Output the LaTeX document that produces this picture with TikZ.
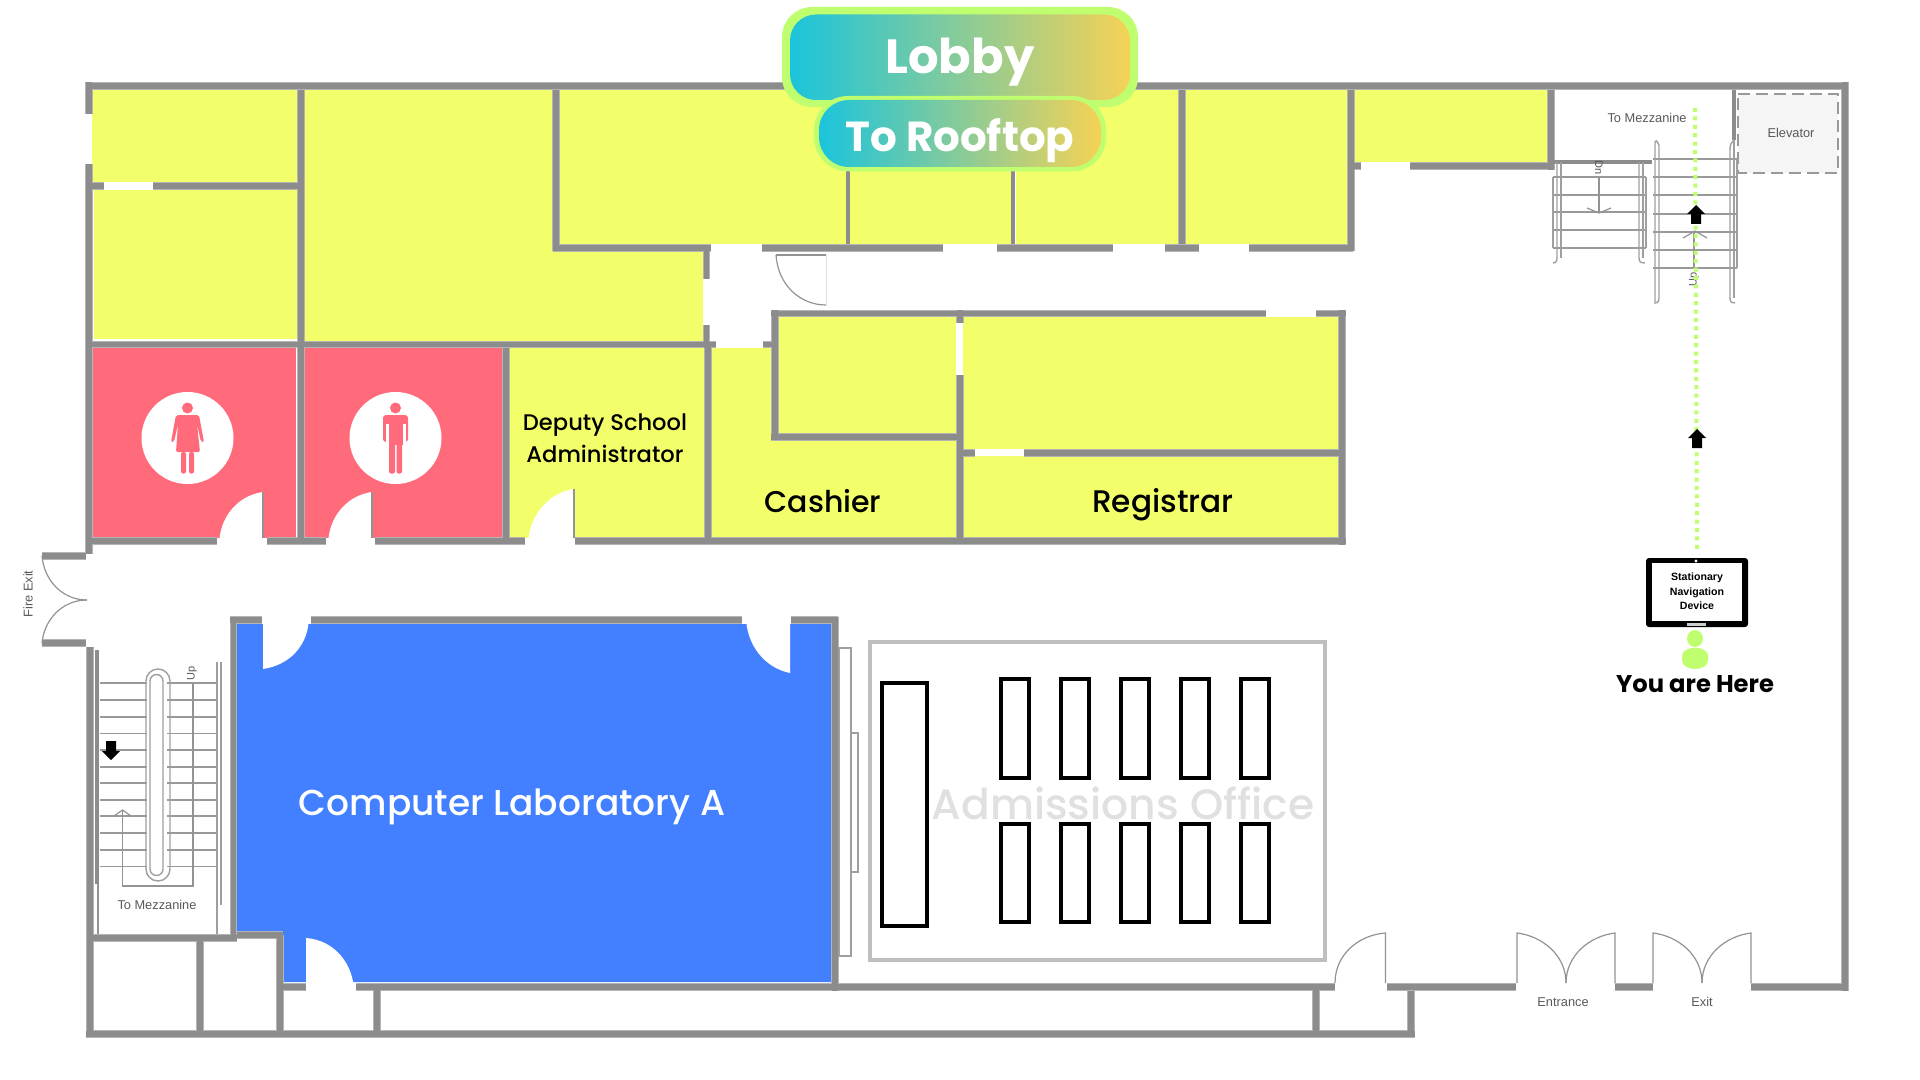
\documentclass[tikz,border=0pt]{standalone}
\usepackage{fontspec}
\setmainfont{Poppins}
\newfontfamily\medfont{Poppins Medium}
\newfontfamily\planfont{Liberation Sans}
\definecolor{roomy}{HTML}{F2FF6B}
\definecolor{roomp}{HTML}{FF6B7B}
\definecolor{roomb}{HTML}{4280FF}
\definecolor{wallc}{HTML}{8C8C8C}
\definecolor{wallo}{HTML}{B4B4B4}
\definecolor{lime}{HTML}{BFFF6F}
\definecolor{gradl}{HTML}{1BC4DC}
\definecolor{gradr}{HTML}{F5D255}
\tikzset{
  room/.style={fill=roomy,draw=none},
  rest/.style={fill=roomp,draw=none},
  wall/.style={draw=wallc,line width=2.8pt},
  wallouter/.style={draw=wallo,line width=3.9pt},
  wallthin/.style={draw=wallc,line width=1.6pt},
  fine/.style={draw=gray!85,line width=0.6pt},
  tread/.style={draw=gray!80,line width=0.8pt},
  rail/.style={draw=gray!75,line width=0.7pt},
  doorw/.style={fill=white,draw=none},
  table/.style={draw=black,line width=2.2pt,fill=white},
  planlabel/.style={font=\planfont\fontsize{6.4}{7}\selectfont,text=black!65,inner sep=0pt},
  roomlabel/.style={inner sep=0pt,align=center},
  tip/.style={fill=black,draw=none},
}
\def\wallpath{
  (86,86) -- (1848,86)
  (1845,82) -- (1845,991)
  (1751,987) -- (1848,987)
  (1615,987) -- (1653,987)
  (1387,987) -- (1516,987)
  (356,987) -- (1335,987)
  (283,987) -- (306,987)
  (86,1034) -- (1415,1034)
  (1411,991) -- (1411,1037)
  (89,82) -- (89,114)
  (89,164) -- (89,554)
  (90,647) -- (90,1037)
  (92,938) -- (237,938)
  (237,935) -- (283,935)
  (280,935) -- (280,1034)
  (200,940) -- (200,1034)
  (377,987) -- (377,1034)
  (1316,987) -- (1316,1034)
  (92,344.5) -- (716,344.5)
  (763,344.5) -- (775,344.5)
  (301,90) -- (301,541)
  (556,90) -- (556,251)
  (553,248) -- (711,248)
  (706.5,251) -- (706.5,279)
  (706.5,325) -- (706.5,348)
  (708,344) -- (708,541)
  (506,348) -- (506,541)
  (153,186) -- (298,186)
  (92,186) -- (104,186)
  (86,541) -- (217,541)
  (267,541) -- (326,541)
  (375,541) -- (525,541)
  (575,541) -- (1346,541)
  (1342,310) -- (1342,545)
  (771,313.5) -- (1266,313.5)
  (1316,313.5) -- (1346,313.5)
  (775,310) -- (775,440)
  (771,437) -- (958,437)
  (960,310) -- (960,323)
  (960,375) -- (960,541)
  (960,453) -- (975,453)
  (1024,453) -- (1342,453)
  (762,248) -- (943,248)
  (997,248) -- (1113,248)
  (1165,248) -- (1199,248)
  (1249,248) -- (1353,248)
  (1182,90) -- (1182,244)
  (1351,90) -- (1351,251)
  (1352,166) -- (1361,166)
  (1410,166) -- (1554,166)
  (1551,90) -- (1551,170)
  (230,620) -- (262,620)
  (311,620) -- (742,620)
  (791,620) -- (838,620)
  (835,617) -- (835,991)
  (233.5,617) -- (233.5,938)
  (42,556) -- (86,556)
  (42,643) -- (86,643)
}
\begin{document}
\begin{tikzpicture}[x=0.5pt,y=-0.5pt]
\useasboundingbox (0,0) rectangle (1920,1080);
\fill[white] (0,0) rectangle (1920,1080);
% rooms
\fill[room] (92,90) rectangle (297,182);
\fill[room] (94,190) rectangle (298,339);
\fill[room] (304,90) -- (553,90) -- (553,251) -- (703,251) -- (703,341) -- (304,341) -- cycle;
\fill[room] (559,90) rectangle (846,244);
\fill[room] (849,90) rectangle (1011,244);
\fill[room] (1016,90) rectangle (1179,244);
\fill[room] (1185,90) rectangle (1347,244);
\fill[room] (1353,90) rectangle (1548,162);
\fill[rest] (92,348) rectangle (296,538);
\fill[rest] (302,348) rectangle (502,538);
\fill[room] (510,348) rectangle (705,538);
\fill[room] (710,348) -- (773,348) -- (773,440) -- (957,440) -- (957,538) -- (710,538) -- cycle;
\fill[room] (778,317) rectangle (956,434);
\fill[room] (963,317) rectangle (1338,449);
\fill[room] (963,456) rectangle (1338,538);
\fill[roomb] (237,624) -- (831,624) -- (831,982) -- (282,982) -- (282,935) -- (237,935) -- cycle;
% walls
\path[wallouter] \wallpath;
\path[wall] \wallpath;
\path[wallthin]
  (848,171) -- (848,244)
  (1013,170) -- (1013,244)
  (1554,162) -- (1652,162)
  (1734,90) -- (1734,140);
% upper office door
\draw[fine] (776,255) .. controls (778,285) and (800,305) .. (826,305);
\draw[fine] (776,255) -- (826,255);
\draw[draw=gray!25,line width=0.4pt] (826,255) -- (826,305);
% washroom and office doors
\fill[doorw] (263,492) .. controls (240,495) and (219,515) .. (219,546) -- (263,546) -- cycle;
\fill[doorw] (372,492) .. controls (349,495) and (328,515) .. (328,546) -- (372,546) -- cycle;
\fill[doorw] (574,489) .. controls (550,492) and (528,515) .. (528,546) -- (574,546) -- cycle;
\draw[fine] (263,492) -- (263,538);
\draw[fine] (372,492) -- (372,538);
\draw[fine] (574,489) -- (574,538);
% lab doors
\fill[doorw] (263,616) -- (263,669) .. controls (290,665) and (309,645) .. (309,616) -- cycle;
\fill[doorw] (790,616) -- (790,673) .. controls (765,668) and (746,645) .. (746,616) -- cycle;
\fill[doorw] (306,938) -- (306,992) -- (354,992) .. controls (354,965) and (335,940) .. (306,938) -- cycle;
% panels beside lab
\draw[rail] (839,648) rectangle (851,956);
\draw[rail] (851,733) rectangle (858,872);
% admissions office
\draw[draw=black!25,line width=2.4pt] (870,642) rectangle (1325,960);
\node[roomlabel,text=black!12,font=\medfont\fontsize{21.2}{24}\selectfont] (adm) at (1123,803) {Admissions Office};
\draw[table] (882,683) rectangle (927,926);
\foreach \xa/\xb in {1001/1029,1061/1089,1121/1149,1181/1209,1241/1269}{
  \draw[table] (\xa,679) rectangle (\xb,778);
  \draw[table] (\xa,824) rectangle (\xb,922);
}
% fire exit
\draw[fine] (42,556) .. controls (44,580) and (62,600) .. (87,600);
\draw[fine] (42,643) .. controls (44,620) and (62,600) .. (87,600);
\node[planlabel,rotate=90] (fire) at (28,594) {Fire Exit};
% left stairs
\draw[wallthin] (97,650) -- (97,884);
\draw[fine] (98,884) -- (98,934);
\draw[rail] (217,662) -- (217,934);
\draw[rail] (221,662) -- (221,905);
\foreach \ty in {683,700,717,733.5,750,767,783,800,816,833,850,866.5}{
  \draw[tread] (100,\ty) -- (147,\ty);
  \draw[tread] (167,\ty) -- (217,\ty);
}
\draw[rail] (146,869) -- (146,681) arc[start angle=180,end angle=360,radius=12] -- (170,869) arc[start angle=0,end angle=180,radius=12];
\draw[rail] (150,869) -- (150,681) arc[start angle=180,end angle=360,radius=6.5] -- (163,869) arc[start angle=0,end angle=180,radius=6.5];
\draw[fine] (193,683) -- (193,886) -- (122.5,886) -- (122.5,810);
\draw[fine] (114,816) -- (122.5,810) -- (131,816);
\node[planlabel,rotate=90,font=\planfont\fontsize{5.5}{6}\selectfont] (upl) at (192,673) {Up};
\node[planlabel] (mezl) at (157,905) {To Mezzanine};
\fill[tip] (106,741) -- (116,741) -- (116,751) -- (120,751) -- (111,760) -- (102,751) -- (106,751) -- cycle;
% elevator
\fill[black!4] (1738,94) rectangle (1838,173);
\draw[draw=gray!80,line width=1pt,dash pattern=on 6pt off 3pt] (1738,94) -- (1838,94) -- (1838,173) -- (1738,173) -- cycle;
\node[planlabel] (elev) at (1791,133) {Elevator};
\node[planlabel] (mezr) at (1647,118) {To Mezzanine};
% right stairs
\foreach \ty in {177,195,212,230,248}{\draw[tread] (1553,\ty) -- (1646,\ty);}
\foreach \ty in {159,177,195,214,232,250,268}{\draw[tread] (1653,\ty) -- (1737,\ty);}
\draw[rail] (1557,162) -- (1557,258) .. controls (1557,263) and (1554,263) .. (1553,263);
\draw[rail] (1561,162) -- (1561,258);
\draw[rail] (1639,162) -- (1639,258) .. controls (1639,263) and (1642,263) .. (1645,263);
\draw[rail] (1643,162) -- (1643,258);
\draw[rail] (1553,177) -- (1553,248);
\draw[rail] (1646,177) -- (1646,248);
\draw[rail] (1655,142) .. controls (1655,140) and (1657,140) .. (1659,145) -- (1659,298) .. controls (1659,303) and (1656,303) .. (1655,303) -- cycle;
\draw[rail] (1734,140) .. controls (1731,142) and (1730,145) .. (1730,150) -- (1730,298) .. controls (1730,303) and (1733,303) .. (1735,303);
\draw[rail] (1734,140) -- (1734,298);
\draw[rail] (1737,159) -- (1737,268);
\draw[fine] (1599,177) -- (1599,213);
\draw[fine] (1587,208) -- (1599,213) -- (1611,208);
\node[planlabel,rotate=-90,font=\planfont\fontsize{5.5}{6}\selectfont] (dnr) at (1599,168) {Dn};
\draw[fine] (1694,267) -- (1694,232);
\draw[fine] (1683,238) -- (1695,231) -- (1707,238);
\node[planlabel,rotate=90,font=\planfont\fontsize{5.5}{6}\selectfont] (upr) at (1694,279) {Up};
% bottom doors
\draw[fine] (1385.5,983) -- (1385.5,933) .. controls (1358,935) and (1335,955) .. (1335,983);
\draw[fine] (1517,983) -- (1517,933) .. controls (1542,936) and (1566,955) .. (1566,983);
\draw[fine] (1615,983) -- (1615,933) .. controls (1590,936) and (1566,955) .. (1566,983);
\draw[fine] (1653,983) -- (1653,933) .. controls (1678,936) and (1702,955) .. (1702,983);
\draw[fine] (1751,983) -- (1751,933) .. controls (1726,936) and (1702,955) .. (1702,983);
\node[planlabel] (ent) at (1563,1002) {Entrance};
\node[planlabel] (exi) at (1702,1002) {Exit};
% route
\coordinate (routeA) at (1695,108);
\coordinate (routeB) at (1697,552);
\draw[draw=lime,line width=2pt,dash pattern=on 2pt off 2.2pt] (routeA) -- (routeB);
\fill[tip] (1691,224) -- (1701,224) -- (1701,214) -- (1705,214) -- (1696,205) -- (1687,214) -- (1691,214) -- cycle;
\fill[tip] (1692,448) -- (1702,448) -- (1702,438) -- (1706,438) -- (1697,429) -- (1688,438) -- (1692,438) -- cycle;
% device
\node[draw=none,fill=black,rounded corners=1.5pt,minimum width=51pt,minimum height=34.5pt,inner sep=0pt] (tablet) at (1697,592.5) {};
\fill[white] (1652,563) rectangle (1742,621);
\fill[white] (1696,561) circle[radius=1.6];
\fill[white!80!black] (1687,623) rectangle (1706,625.5);
\node[roomlabel,font=\planfont\bfseries\fontsize{5.3}{7.2}\selectfont] (devt) at (1697,591.5) {Stationary\\Navigation\\Device};
% person
\fill[lime] (1695,638.5) ellipse[x radius=8,y radius=8.5];
\fill[lime] (1682,656) .. controls (1682,645) and (1708,645) .. (1708,656) -- (1708,660) .. controls (1708,672) and (1682,672) .. (1682,660) -- cycle;
\node[roomlabel,font=\bfseries\fontsize{12.1}{14}\selectfont] (here) at (1695,684) {You are Here};
% restroom icons
\fill[white] (187.5,438) circle[radius=46];
\fill[white] (395.5,438) circle[radius=46];
\fill[roomp] (187.5,408) ellipse[x radius=5.5,y radius=5.5];
\fill[roomp,rounded corners=1pt] (176,415) -- (199,415) -- (204,442) -- (201,442) -- (197,424) -- (200,452) -- (176,452) -- (178,424) -- (174,442) -- (171,442) -- cycle;
\fill[roomp,rounded corners=1pt] (181,452) rectangle (186,473.5);
\fill[roomp,rounded corners=1pt] (189,452) rectangle (194,473.5);
\fill[roomp] (395.5,408) ellipse[x radius=5.5,y radius=5.5];
\fill[roomp,rounded corners=1.5pt] (383,415) rectangle (408,442);
\fill[white] (386,424) rectangle (388.5,443);
\fill[white] (403,424) rectangle (405.5,443);
\fill[roomp] (388.5,424) rectangle (403,445);
\fill[roomp,rounded corners=1pt] (389,440) rectangle (395,473.5);
\fill[roomp,rounded corners=1pt] (396.5,440) rectangle (402,473.5);
% room labels
\node[roomlabel,font=\medfont\fontsize{11.3}{16}\selectfont] (dep) at (605,438) {Deputy School\\Administrator};
\node[roomlabel,anchor=base,font=\medfont\fontsize{15}{18}\selectfont] (cash) at (823,512) {Cashier};
\node[roomlabel,anchor=base,font=\medfont\fontsize{15.6}{18}\selectfont] (reg) at (1163,512) {Registrar};
\node[roomlabel,text=white,font=\medfont\fontsize{18}{22}\selectfont] (lab) at (512,807) {Computer Laboratory A};
% badges
\fill[lime,rounded corners=15pt] (782,7) rectangle (1138,107);
\shade[left color=gradl,right color=gradr,rounded corners=13pt] (790,14.5) rectangle (1130,100);
\fill[lime,rounded corners=17pt] (814,96) rectangle (1106,171.5);
\shade[left color=gradl,right color=gradr,rounded corners=15pt] (819,100) rectangle (1101,167);
\node[roomlabel,text=white,font=\bfseries\fontsize{24}{28}\selectfont] (lobby) at (960,62) {Lobby};
\node[roomlabel,text=white,font=\bfseries\fontsize{21}{24}\selectfont] (roof) at (960,141) {To Rooftop};
\end{tikzpicture}
\end{document}
